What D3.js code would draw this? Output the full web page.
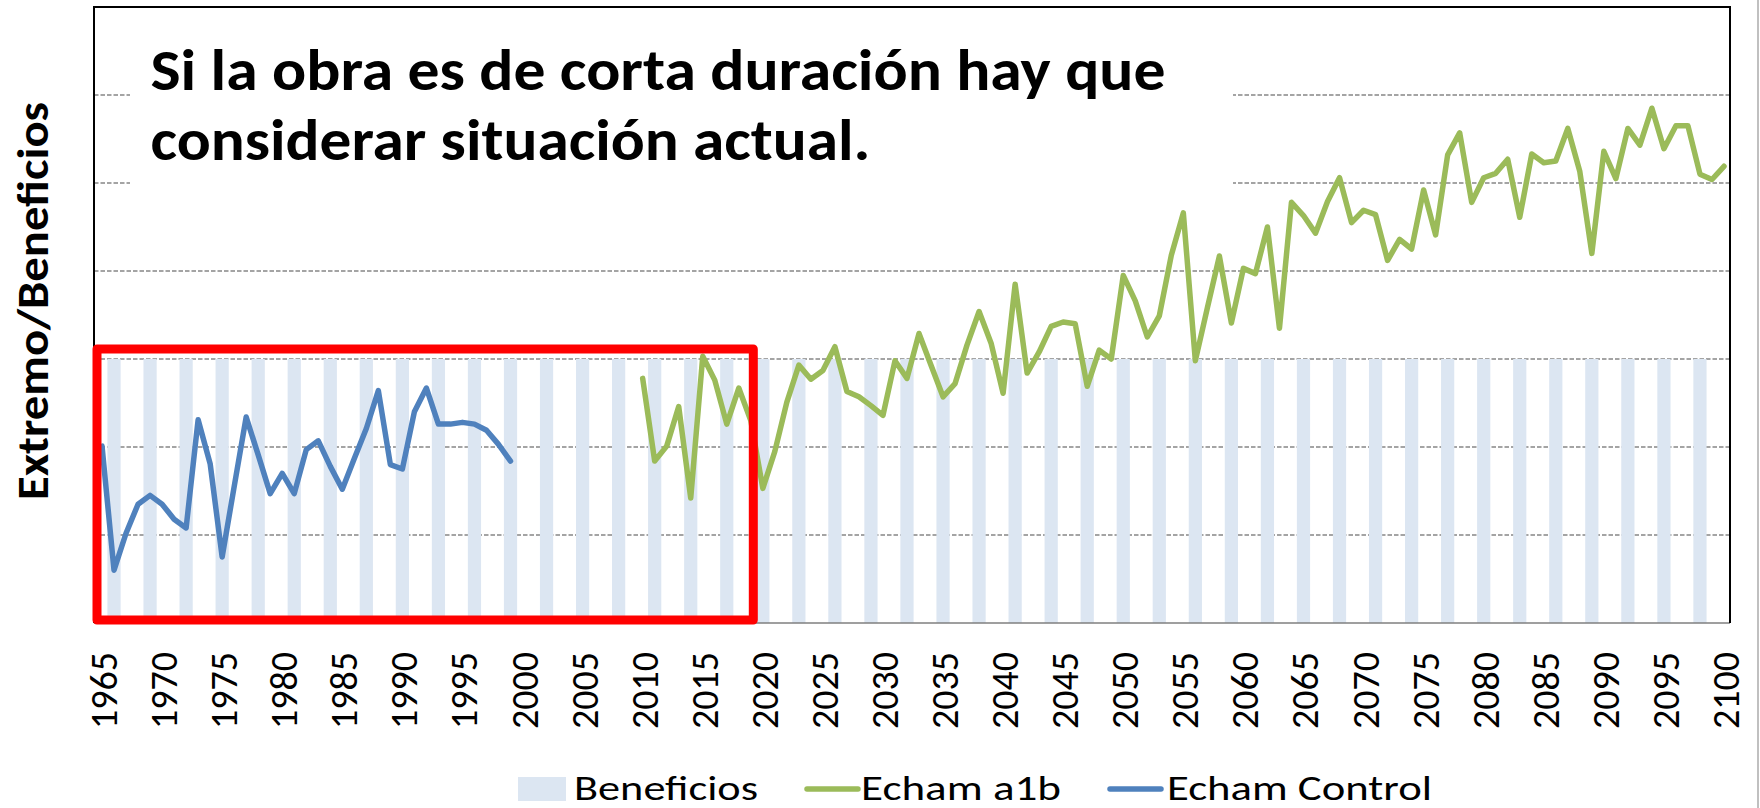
<!DOCTYPE html>
<html>
<head>
<meta charset="utf-8">
<script src="https://cdn.jsdelivr.net/npm/d3@7"></script>
<style>
  html, body { margin: 0; padding: 0; background: #ffffff; }
  svg { display: block; }
  text { font-family: "Carlito", "Lato", "Open Sans", sans-serif; }
</style>
</head>
<body>
<svg id="chart" width="1760" height="808"></svg>
<script>
// Years on the category axis
const years = d3.range(1965, 2101);

// Beneficios: one column every third year, all at the same level
const beneficiosYears = [1966, 1969, 1972, 1975, 1978, 1981, 1984, 1987, 1990, 1993, 1996, 1999,
  2002, 2005, 2008, 2011, 2014, 2017, 2020, 2023, 2026, 2029, 2032, 2035, 2038, 2041, 2044,
  2047, 2050, 2053, 2056, 2059, 2062, 2065, 2068, 2071, 2074, 2077, 2080, 2083, 2086, 2089,
  2092, 2095, 2098];
const beneficiosValues = [3, 3, 3, 3, 3, 3, 3, 3, 3, 3, 3, 3,
  3, 3, 3, 3, 3, 3, 3, 3, 3, 3, 3, 3, 3, 3, 3,
  3, 3, 3, 3, 3, 3, 3, 3, 3, 3, 3, 3, 3, 3, 3,
  3, 3, 3];

// Echam Control, 1965-1999
const controlStart = 1965;
const controlValues = [2.01, 0.60, 1.02, 1.35, 1.45, 1.35, 1.18, 1.08, 2.31, 1.81,
  0.75, 1.55, 2.34, 1.91, 1.47, 1.70, 1.47, 1.97, 2.07, 1.78,
  1.52, 1.87, 2.21, 2.64, 1.80, 1.75, 2.40, 2.67, 2.26, 2.26,
  2.28, 2.26, 2.19, 2.03, 1.84];

// Echam a1b, 2010-2100
const a1bStart = 2010;
const a1bValues = [2.78, 1.84, 2.01, 2.46, 1.42, 3.03, 2.76, 2.26, 2.67, 2.30,
  1.53, 1.95, 2.51, 2.93, 2.77, 2.87, 3.14, 2.63, 2.57, 2.47,
  2.36, 2.98, 2.78, 3.29, 2.93, 2.57, 2.72, 3.16, 3.54, 3.18,
  2.61, 3.85, 2.84, 3.08, 3.37, 3.42, 3.40, 2.69, 3.10, 3.00,
  3.95, 3.66, 3.25, 3.49, 4.18, 4.66, 2.98, 3.58, 4.17, 3.41,
  4.03, 3.97, 4.50, 3.35, 4.78, 4.63, 4.43, 4.79, 5.06, 4.55,
  4.69, 4.64, 4.12, 4.36, 4.25, 4.92, 4.41, 5.32, 5.57, 4.78,
  5.06, 5.11, 5.27, 4.61, 5.33, 5.23, 5.25, 5.62, 5.13, 4.20,
  5.36, 5.05, 5.62, 5.43, 5.85, 5.39, 5.65, 5.65, 5.10, 5.04,
  5.19];

// Tick labels and gridline levels
const tickYears = d3.range(1965, 2101, 5);
const gridLevels = [1, 2, 3, 4, 5, 6];

const titleLines = ["Si la obra es de corta duración hay que", "considerar situación actual."];
const yTitle = "Extremo/Beneficios";
const legendItems = [
  { name: "Beneficios", kind: "rect", color: "#dce6f2" },
  { name: "Echam a1b", kind: "line", color: "#9bbb59" },
  { name: "Echam Control", kind: "line", color: "#4f81bd" }
];

// ---- layout ----
const frame = { left: 94, right: 1730, top: 7, bottom: 623 };
const svg = d3.select("#chart");

svg.append("rect").attr("width", 1760).attr("height", 808).attr("fill", "#ffffff");

const x = d3.scaleBand().domain(years).range([96, frame.right]).padding(0);
const y = d3.scaleLinear().domain([0, 7]).range([frame.bottom, frame.top]);
const cx = yr => x(yr) + x.bandwidth() / 2;

// outer chart border on the right
svg.append("line")
  .attr("x1", 1758).attr("x2", 1758).attr("y1", 0).attr("y2", 808)
  .attr("stroke", "#c0c0c0").attr("stroke-width", 2);

// horizontal gridlines
svg.append("g").selectAll("line").data(gridLevels).join("line")
  .attr("x1", frame.left).attr("x2", frame.right)
  .attr("y1", d => y(d)).attr("y2", d => y(d))
  .attr("stroke", "#868686").attr("stroke-width", 1.5)
  .attr("stroke-dasharray", "4.5,2");

// Beneficios columns
const barW = x.bandwidth() * 1.1;
svg.append("g").selectAll("rect").data(beneficiosYears).join("rect")
  .attr("x", d => cx(d) - barW / 2)
  .attr("width", barW)
  .attr("y", (d, i) => y(beneficiosValues[i]))
  .attr("height", (d, i) => y(0) - y(beneficiosValues[i]))
  .attr("fill", "#dce6f2");

// bottom axis line
const xAxis = d3.axisBottom(x).tickValues(tickYears).tickSize(0).tickFormat("");
svg.append("g").attr("transform", `translate(0,${frame.bottom})`).call(xAxis)
  .call(g => g.select(".domain").attr("stroke", "#7f7f7f").attr("stroke-width", 1.5)
    .attr("d", `M${frame.left},0H${frame.right}`));

// plot frame (top, left, right)
svg.append("path")
  .attr("d", `M${frame.left},${frame.bottom}V${frame.top}H${frame.right}V${frame.bottom}`)
  .attr("fill", "none").attr("stroke", "#000000").attr("stroke-width", 2);

// rotated year labels
svg.append("g").selectAll("text").data(tickYears).join("text")
  .attr("transform", d => `translate(${cx(d) + 15},652) rotate(-90)`)
  .attr("text-anchor", "end")
  .attr("font-size", 38)
  .attr("fill", "#000000")
  .text(d => d);

// annotation box with two-line message
svg.append("rect")
  .attr("x", 130).attr("y", 20).attr("width", 1103).attr("height", 180)
  .attr("fill", "#ffffff");
const titleWidths = [1015, 720];
svg.append("g").selectAll("text").data(titleLines).join("text")
  .attr("x", 150.5)
  .attr("y", (d, i) => 90 + i * 70)
  .attr("font-size", 58)
  .attr("font-weight", "bold")
  .attr("fill", "#000000")
  .attr("textLength", (d, i) => titleWidths[i])
  .attr("lengthAdjust", "spacingAndGlyphs")
  .text(d => d);

// series lines
const line = d3.line().x(d => cx(d.year)).y(d => y(d.value));
const a1bData = a1bValues.map((v, i) => ({ year: a1bStart + i, value: v }));
const controlData = controlValues.map((v, i) => ({ year: controlStart + i, value: v }));

svg.append("path").datum(a1bData)
  .attr("d", line).attr("fill", "none")
  .attr("stroke", "#9bbb59").attr("stroke-width", 5.5)
  .attr("stroke-linejoin", "round").attr("stroke-linecap", "round");
svg.append("path").datum(controlData)
  .attr("d", line).attr("fill", "none")
  .attr("stroke", "#4f81bd").attr("stroke-width", 5.5)
  .attr("stroke-linejoin", "round").attr("stroke-linecap", "round");

// highlight of the present-day window
svg.append("rect")
  .attr("x", 97).attr("y", 349)
  .attr("width", cx(2019) + 2.5 - 97).attr("height", 620 - 349)
  .attr("fill", "none").attr("stroke", "#ff0000").attr("stroke-width", 9)
  .attr("stroke-linejoin", "round");

// y-axis title
svg.append("text")
  .attr("transform", "translate(48,301) rotate(-90)")
  .attr("text-anchor", "middle")
  .attr("font-size", 44)
  .attr("font-weight", "bold")
  .attr("fill", "#000000")
  .attr("textLength", 398)
  .attr("lengthAdjust", "spacingAndGlyphs")
  .text(yTitle);

// legend
const legendPos = [
  { sx: 518, tx: 574, tw: 184 },
  { sx: 807, tx: 861, tw: 200 },
  { sx: 1110, tx: 1167, tw: 265 }
];
const lg = svg.append("g");
legendItems.forEach((item, i) => {
  const p = legendPos[i];
  if (item.kind === "rect") {
    lg.append("rect").attr("x", p.sx).attr("y", 777).attr("width", 48).attr("height", 24)
      .attr("fill", item.color);
  } else {
    lg.append("line").attr("x1", p.sx).attr("x2", p.sx + 51).attr("y1", 789).attr("y2", 789)
      .attr("stroke", item.color).attr("stroke-width", 5.5).attr("stroke-linecap", "round");
  }
  lg.append("text").attr("x", p.tx).attr("y", 800)
    .attr("font-size", 34).attr("fill", "#000000")
    .attr("textLength", p.tw).attr("lengthAdjust", "spacingAndGlyphs")
    .text(item.name);
});
</script>
</body>
</html>
